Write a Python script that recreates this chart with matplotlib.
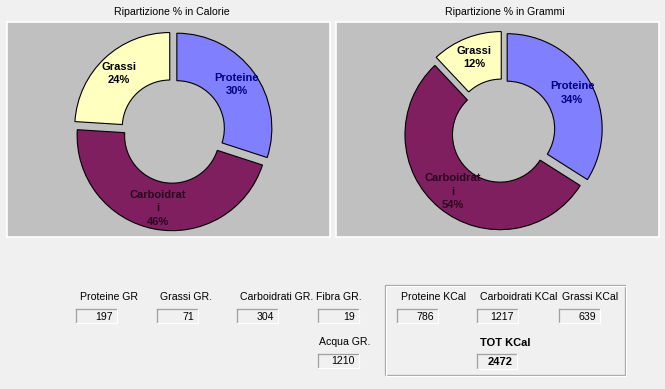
import matplotlib.pyplot as plt
from matplotlib.lines import Line2D
from matplotlib.patches import Rectangle

W, H = 665, 389
FONT = "Liberation Sans"

# chart data
slice_names = ["Proteine", "Carboidrat\ni", "Grassi"]
slice_colors = ["#8080FF", "#801F5F", "#FFFFC0"]
label_colors = ["#000080", "#2A0820", "#000000"]
calorie_pct = [30, 46, 24]
gram_pct = [34, 54, 12]
chart_titles = ["Ripartizione % in Calorie", "Ripartizione % in Grammi"]

# form fields
gram_fields = ["Proteine GR", "Grassi GR.", "Carboidrati GR.", "Fibra GR.", "Acqua GR."]
gram_values = [197, 71, 304, 19, 1210]
kcal_fields = ["Proteine KCal", "Carboidrati KCal", "Grassi KCal"]
kcal_values = [786, 1217, 639]
total_label = "TOT KCal"
total_kcal = 2472

fig = plt.figure(figsize=(W / 100, H / 100), dpi=100, facecolor="#F0F0F0")


def fx(x):
    return x / W


def fy(y):
    return 1 - y / H


# pie panels: (left, top, width, height, centre x, centre y, title x)
panels = [(7, 22, 323, 215, 166, 109, 172), (336, 22, 323, 215, 167, 109, 505)]
R = 95.0

for (x0, y0, w, h, cx, cy, tx), pct, title in zip(panels, [calorie_pct, gram_pct], chart_titles):
    ax = fig.add_axes([fx(x0), fy(y0 + h), w / W, h / H])
    labels = [f"{n}\n{v}%" for n, v in zip(slice_names, pct)]
    wedges, texts = ax.pie(
        pct, labels=labels, colors=slice_colors, explode=[0.05] * 3,
        startangle=90, counterclock=False, labeldistance=0.78,
        wedgeprops=dict(width=0.5, edgecolor="black", linewidth=0.8),
        textprops=dict(fontweight="bold", fontsize=8, family=FONT),
    )
    for t, c in zip(texts, label_colors):
        t.set_ha("center")
        t.set_va("center")
        t.set_color(c)
        t.set_linespacing(1.45)
    ax.set_aspect("auto")
    ax.set_xlim(-cx / R, (w - cx) / R)
    ax.set_ylim(-(h - cy) / R, cy / R)
    ax.set_frame_on(True)
    ax.set_facecolor("#C0C0C0")
    ax.set_xticks([])
    ax.set_yticks([])
    for s in ax.spines.values():
        s.set_color("white")
        s.set_linewidth(1.2)
    fig.text(fx(tx), fy(12), title, ha="center", va="center", fontsize=7.6, family=FONT)


def field_box(left, top, value, bold=False, bw=41, bh=14):
    r = Rectangle((fx(left), fy(top + bh)), bw / W, bh / H, transform=fig.transFigure,
                  facecolor="#F0F0F0", edgecolor="none")
    fig.patches.append(r)
    dark, light = "#A0A0A0", "#FFFFFF"
    fig.lines.append(Line2D([fx(left), fx(left + bw)], [fy(top), fy(top)], color=dark, lw=0.9, transform=fig.transFigure))
    fig.lines.append(Line2D([fx(left), fx(left)], [fy(top), fy(top + bh)], color=dark, lw=0.9, transform=fig.transFigure))
    fig.lines.append(Line2D([fx(left), fx(left + bw)], [fy(top + bh), fy(top + bh)], color=light, lw=0.9, transform=fig.transFigure))
    fig.lines.append(Line2D([fx(left + bw), fx(left + bw)], [fy(top), fy(top + bh)], color=light, lw=0.9, transform=fig.transFigure))
    fig.text(fx(left + bw - 4), fy(top + bh / 2 + 0.5), str(value), ha="right", va="center",
             fontsize=8 if bold else 7.6, family=FONT, fontweight="bold" if bold else "normal")


# grams fields layout: (label x, label y, box left, box top)
gram_layout = [(80, 297, 76, 309), (160, 297, 157, 309), (240, 297, 237, 309),
               (316, 297, 318, 309), (319, 342, 318, 354)]
for name, val, (lx, ly, bx, by) in zip(gram_fields, gram_values, gram_layout):
    fig.text(fx(lx), fy(ly), name, ha="left", va="center", fontsize=7.6, family=FONT)
    field_box(bx, by, val)

# group box
gl, gt, gr, gb = 385, 285, 625, 375
for dx, col in [(0, "#A0A0A0"), (1, "#FFFFFF")]:
    fig.patches.append(Rectangle((fx(gl + dx), fy(gb + dx)), (gr - gl) / W, (gb - gt) / H,
                                 transform=fig.transFigure, facecolor="none", edgecolor=col, lw=0.9))

kcal_layout = [(401, 297, 397, 309), (480, 297, 477, 309), (562, 297, 559, 309)]
for name, val, (lx, ly, bx, by) in zip(kcal_fields, kcal_values, kcal_layout):
    fig.text(fx(lx), fy(ly), name, ha="left", va="center", fontsize=7.6, family=FONT)
    field_box(bx, by, val)

fig.text(fx(480), fy(343), total_label, ha="left", va="center", fontsize=8, family=FONT, fontweight="bold")
field_box(477, 354, total_kcal, bold=True, bw=40, bh=15)

fig.savefig("out.png", dpi=100, facecolor=fig.get_facecolor())
